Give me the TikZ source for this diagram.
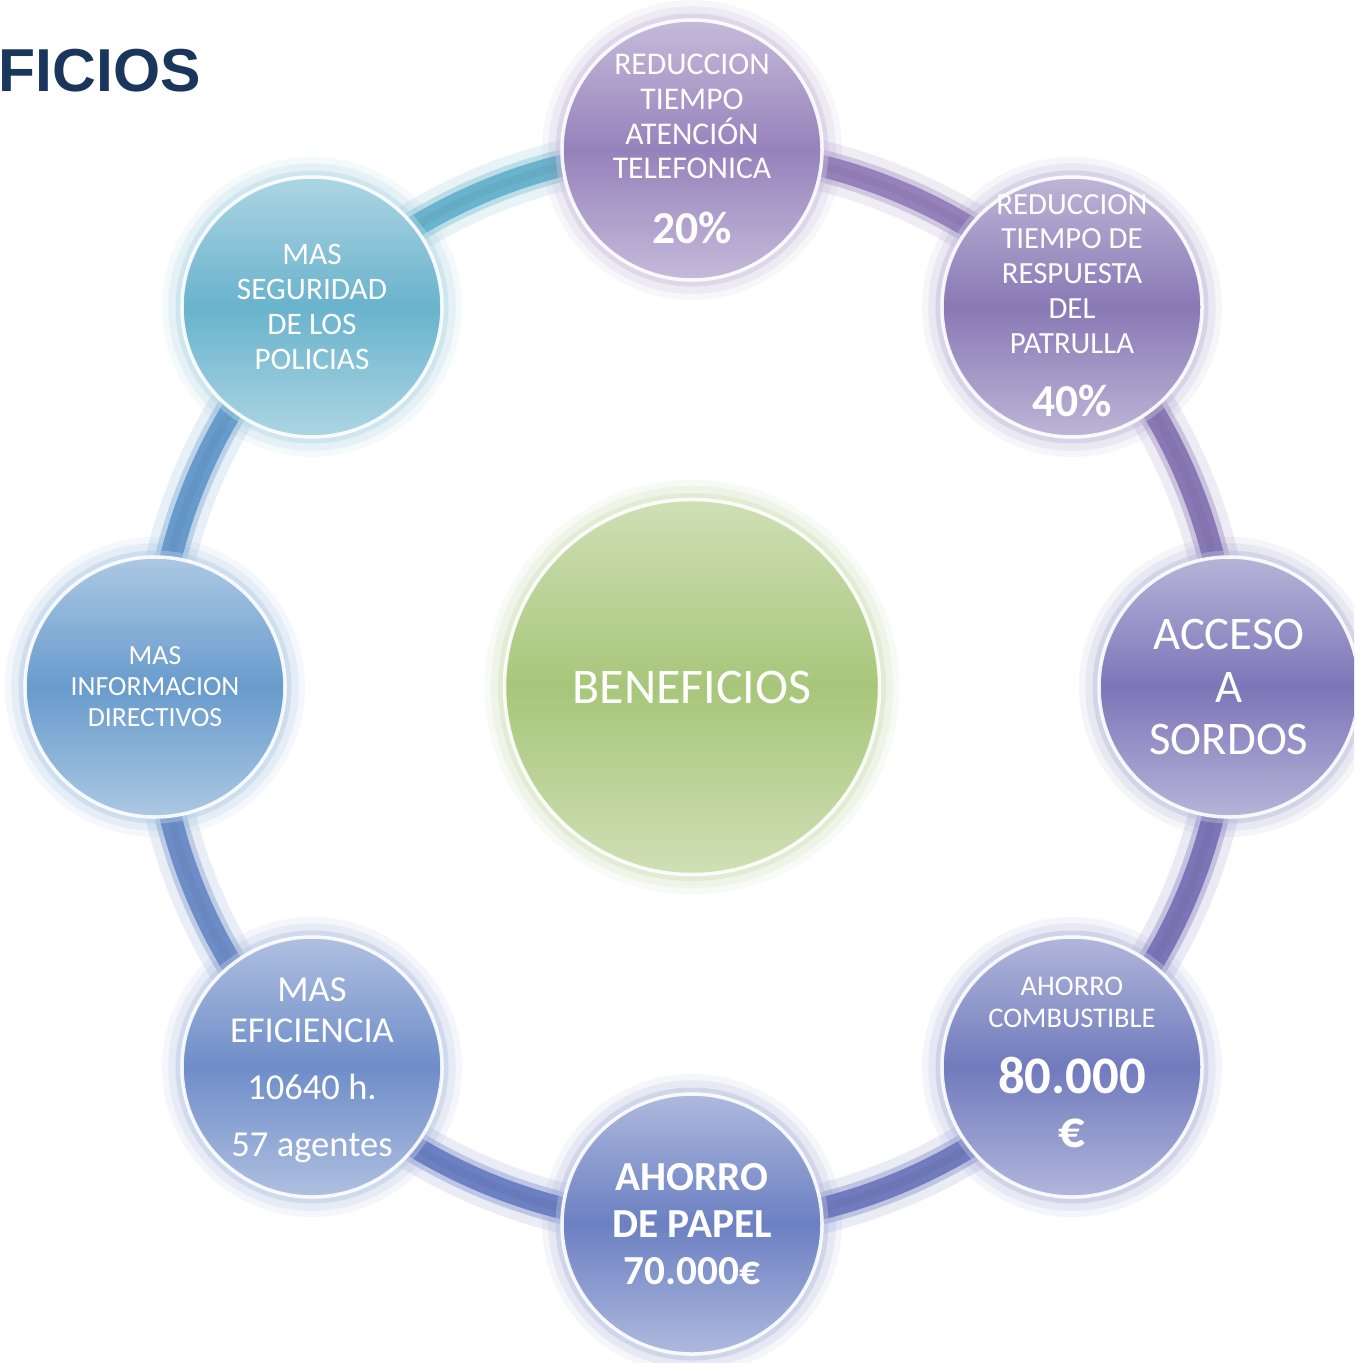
\documentclass[tikz,border=0pt]{standalone}
\usepackage{fontspec}
\setmainfont{Carlito}
\newfontfamily\titlefont{Liberation Sans}
\usetikzlibrary{backgrounds}
\definecolor{cT}{HTML}{9682BB}
\definecolor{cTR}{HTML}{8879B5}
\definecolor{cR}{HTML}{7C76B8}
\definecolor{cBR}{HTML}{717BBD}
\definecolor{cB}{HTML}{6C80C2}
\definecolor{cBL}{HTML}{6E8DC8}
\definecolor{cL}{HTML}{689BCC}
\definecolor{cTL}{HTML}{69B3CC}
\definecolor{cC}{HTML}{A8C67A}
\definecolor{titleblue}{HTML}{1B365D}
\newcommand\fs[2]{\fontsize{#1}{#2}\selectfont}
\begin{document}
\begin{tikzpicture}[x=0.2mm,y=-0.2mm,
  bubble/.style={circle, minimum size=52mm, inner sep=0pt, draw=white, line width=0.7mm, draw opacity=.9,
     top color=#1!55!white, bottom color=#1!55!white, middle color=#1,
     preaction={draw=#1, draw opacity=.07, line width=8mm},
     preaction={draw=#1, draw opacity=.10, line width=5.5mm},
     preaction={draw=#1!50!white, draw opacity=.45, line width=2.6mm}},
  lbl/.style={text=white, align=center, inner sep=0pt},
  tube/.style={draw=#1!45!white, line width=6.4mm,
     preaction={draw=#1, draw opacity=.15, line width=10mm},
     postaction={draw=#1, line width=4.4mm},
     postaction={draw=#1!85!black, draw opacity=.25, line width=1.6mm}}]
\useasboundingbox (0,0) rectangle (1354,1363);
\clip (0,0) rectangle (1354,1363);

% title
\node[anchor=base east, inner sep=0pt, text=titleblue, font=\titlefont\bfseries\fs{34.5}{34.5}] (title) at (201,92) {FICIOS};

% bubbles
\node[bubble=cC, minimum size=75mm] (C) at (692,687) {};
\node[bubble=cT]  (T)  at (692,150) {};
\node[bubble=cTR] (TR) at (1072,307) {};
\node[bubble=cR]  (R)  at (1229,687) {};
\node[bubble=cBR] (BR) at (1072,1067) {};
\node[bubble=cB]  (B)  at (692,1224) {};
\node[bubble=cBL] (BL) at (312,1067) {};
\node[bubble=cL]  (L)  at (155,687) {};
\node[bubble=cTL] (TL) at (312,307) {};

% ring
\begin{scope}[on background layer]
\fill[white] (0,0) rectangle (1354,1363);
\draw[tube=cTL] (TL.center) arc[start angle=135, end angle=90, radius=107.4mm];
\draw[tube=cT]  (T.center)  arc[start angle=90, end angle=45, radius=107.4mm];
\draw[tube=cTR] (TR.center) arc[start angle=45, end angle=0, radius=107.4mm];
\draw[tube=cR]  (R.center)  arc[start angle=0, end angle=-45, radius=107.4mm];
\draw[tube=cBR] (BR.center) arc[start angle=-45, end angle=-90, radius=107.4mm];
\draw[tube=cB]  (B.center)  arc[start angle=-90, end angle=-135, radius=107.4mm];
\draw[tube=cBL] (BL.center) arc[start angle=-135, end angle=-180, radius=107.4mm];
\draw[tube=cL]  (L.center)  arc[start angle=180, end angle=135, radius=107.4mm];
\end{scope}

% labels
\node[lbl, font=\fs{28.4}{30}] (tC) at (692,687) {BENEFICIOS};
\node[lbl, font=\fs{18}{19.85}] (tT) at (692,116.5) {REDUCCION\\TIEMPO\\ATENCIÓN\\TELEFONICA};
\node[lbl, font=\bfseries\fs{26}{28}] (tT2) at (692,228) {20\%};
\node[lbl, font=\fs{17.5}{19.85}] (tTR) at (1072,274) {REDUCCION\\TIEMPO DE\\RESPUESTA\\DEL\\PATRULLA};
\node[lbl, font=\bfseries\fs{26}{28}] (tTR2) at (1072,401) {40\%};
\node[lbl, font=\fs{26.6}{29.8}] (tR) at (1229,687) {ACCESO\\A\\SORDOS};
\node[lbl, font=\fs{16.2}{18.1}] (tBR1) at (1072,1002) {AHORRO\\COMBUSTIBLE};
\node[lbl, font=\bfseries\fs{30}{32}] (tBR2) at (1072,1075) {80.000};
\node[lbl, font=\bfseries\fs{30}{32}] (tBR3) at (1072,1133) {€};
\node[lbl, font=\bfseries\fs{23.5}{26.9}] (tB) at (692,1224) {AHORRO\\DE PAPEL\\70.000€};
\node[lbl, font=\fs{20.8}{23.2}] (tBL1) at (312,1010.5) {MAS\\EFICIENCIA};
\node[lbl, font=\fs{20.8}{23.2}] (tBL2) at (312,1087) {10640 h.};
\node[lbl, font=\fs{20.8}{23.2}, anchor=base] (tBL3) at (312,1156) {57 agentes};
\node[lbl, font=\fs{15.8}{17.6}] (tL) at (155,687) {MAS\\INFORMACION\\DIRECTIVOS};
\node[lbl, font=\fs{17.8}{19.85}] (tTL) at (312,307) {MAS\\SEGURIDAD\\DE LOS\\POLICIAS};
\end{tikzpicture}
\end{document}
